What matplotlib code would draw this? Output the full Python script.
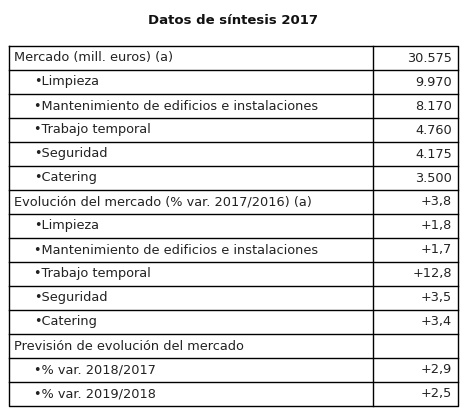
import matplotlib.pyplot as plt

labels = [
    "Mercado (mill. euros) (a)",
    "•Limpieza",
    "•Mantenimiento de edificios e instalaciones",
    "•Trabajo temporal",
    "•Seguridad",
    "•Catering",
    "Evolución del mercado (% var. 2017/2016) (a)",
    "•Limpieza",
    "•Mantenimiento de edificios e instalaciones",
    "•Trabajo temporal",
    "•Seguridad",
    "•Catering",
    "Previsión de evolución del mercado",
    "•% var. 2018/2017",
    "•% var. 2019/2018",
]
values = ["30.575", "9.970", "8.170", "4.760", "4.175", "3.500",
          "+3,8", "+1,8", "+1,7", "+12,8", "+3,5", "+3,4",
          "", "+2,9", "+2,5"]

W, H = 466, 416
fig = plt.figure(figsize=(W / 100, H / 100), dpi=100)
ax = fig.add_axes([0, 0, 1, 1])
ax.set_xlim(0, W)
ax.set_ylim(H, 0)
ax.axis("off")

ax.text(W / 2, 20, "Datos de síntesis 2017", ha="center", va="center",
        fontsize=9.5, fontweight="bold", color="#111111")

left, right, div = 9, 458, 373
top, rh = 46, 24
n = len(labels)
bottom = top + rh * n
ax.plot([left, right, right, left, left], [top, top, bottom, bottom, top], color="black", lw=1)
ax.plot([div, div], [top, bottom], color="black", lw=1)
for i in range(1, n):
    ax.plot([left, right], [top + i * rh, top + i * rh], color="black", lw=1)

for i, (lab, val) in enumerate(zip(labels, values)):
    y = top + i * rh + rh / 2
    x = left + 25 if lab.startswith("•") else left + 5
    ax.text(x, y, lab, ha="left", va="center", fontsize=9.3, color="#222222")
    ax.text(right - 6, y, val, ha="right", va="center", fontsize=9.3, color="#222222")

fig.savefig("out.png", dpi=100)
